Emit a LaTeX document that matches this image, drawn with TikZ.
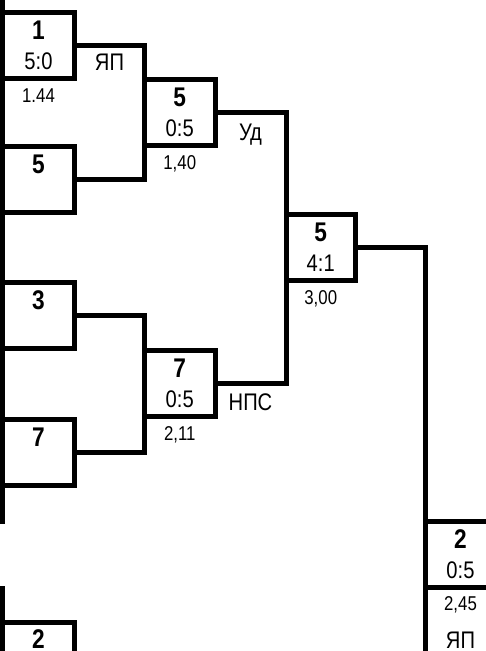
\documentclass[tikz,border=0pt]{standalone}
\usepackage{fontspec}
\setmainfont{Liberation Sans}[FakeStretch=0.84]
\usetikzlibrary{calc}
\begin{document}
\begin{tikzpicture}[x=1pt,y=-1pt,
  ln/.style={line width=5pt,line join=miter},
  cell/.style={draw,line width=5pt,inner sep=0pt,outer sep=0pt,minimum height=66pt},
  c1/.style={cell,minimum width=72pt},
  c2/.style={cell,minimum width=70.5pt},
  c3/.style={cell,minimum width=69.5pt},
  c4/.style={cell,minimum width=70pt},
  num/.style={anchor=base,inner sep=0pt,font=\fontsize{27}{27}\selectfont\bfseries},
  sc/.style={anchor=base,inner sep=0pt,font=\fontsize{24}{24}\selectfont},
  sm/.style={anchor=base,inner sep=0pt,font=\fontsize{20}{20}\selectfont},
]
\useasboundingbox (0,0) rectangle (486,651);
\clip (0,0) rectangle (486,651);

% left border lines
\coordinate (ltop) at (2.5,-5);
\coordinate (lend) at (2.5,524);
\coordinate (l2top) at (2.5,586);
\coordinate (l2end) at (2.5,660);
\draw[ln] (ltop) -- (lend);
\draw[ln] (l2top) -- (l2end);

% round 1
\node[c1] (b1) at (38.5,45) {};
\node[c1] (b5) at (38.5,179) {};
\node[c1] (b3) at (38.5,315) {};
\node[c1] (b7) at (38.5,452) {};
\node[c1] (b2) at (38.5,655) {};

% round 2
\node[c2] (r2a) at (179.75,112) {};
\node[c2] (r2b) at (179.75,383.5) {};

% round 3
\node[c3] (r3) at (320.75,247.75) {};

% round 4
\node[c4] (r4) at (460.5,554) {};
\coordinate (rbot) at (425.5,660);

% connectors
\draw[ln] (b1.east) -| (r2a.west) |- (b5.east);
\draw[ln] (b3.east) -| (r2b.west) |- (b7.east);
\draw[ln] (r2a.east) -| (r3.west) |- (r2b.east);
\draw[ln] (r3.east) -| (rbot);

% texts round 1
\node[num] (t1) at ($(b1.north)+(0,27)$) {1};
\node[sc]  (s1) at ($(b1.north)+(0,57)$) {5:0};
\node[sm]  (k1) at ($(b1.south)+(0,24)$) {1.44};
\node[num] (t5) at ($(b5.north)+(0,27)$) {5};
\node[num] (t3) at ($(b3.north)+(0,27)$) {3};
\node[num] (t7) at ($(b7.north)+(0,27)$) {7};
\node[num] (t2) at ($(b2.north)+(0,26)$) {2};

% round 2
\node[num] (u1) at ($(r2a.north)+(0,27)$) {5};
\node[sc]  (v1) at ($(r2a.north)+(0,57)$) {0:5};
\node[sm]  (w1) at ($(r2a.south)+(0,24)$) {1,40};
\node[num] (u2) at ($(r2b.north)+(0,27)$) {7};
\node[sc]  (v2) at ($(r2b.north)+(0,57)$) {0:5};
\node[sm]  (w2) at ($(r2b.south)+(0,24)$) {2,11};

% round 3
\node[num] (u3) at ($(r3.north)+(0,27)$) {5};
\node[sc]  (v3) at ($(r3.north)+(0,57)$) {4:1};
\node[sm]  (w3) at ($(r3.south)+(0,24)$) {3,00};

% round 4
\node[num] (u4) at ($(r4.north)+(0,27)$) {2};
\node[sc]  (v4) at ($(r4.north)+(0,57)$) {0:5};
\node[sm]  (w4) at ($(r4.south)+(0,23)$) {2,45};
\node[sc]  (x4) at ($(r4.south)+(0,61)$) {ЯП};

% side labels
\node[sc] (la) at (109.5,70) {ЯП};
\node[sc] (lb) at (250.5,140) {Уд};
\node[sc] (lc) at (250.5,410) {НПС};
\end{tikzpicture}
\end{document}
